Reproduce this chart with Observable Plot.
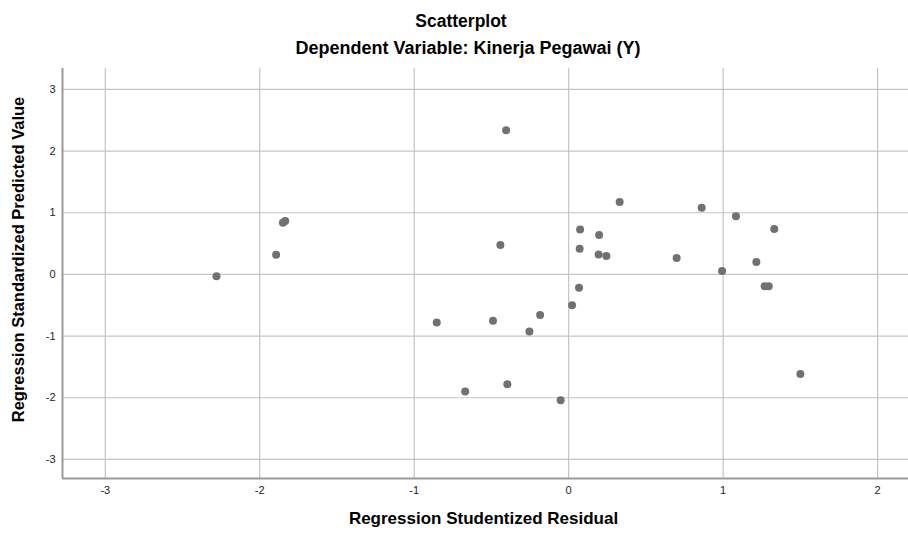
<!DOCTYPE html>
<html>
<head>
<meta charset="utf-8">
<script src="https://cdn.jsdelivr.net/npm/d3@7"></script>
<script src="https://cdn.jsdelivr.net/npm/@observablehq/plot@0.6"></script>
<style>
  html, body { margin: 0; padding: 0; background: #fff; }
  #wrap { position: relative; width: 908px; height: 534px; font-family: "Liberation Sans", Arial, sans-serif; color: #000; }
  .ttl { position: absolute; left: 0; width: 908px; box-sizing: border-box; text-align: center; font-weight: bold; white-space: nowrap; }
  #t1 { top: 13px; font-size: 17.5px; line-height: 17px; padding-left: 14px; }
  #t2 { top: 39px; font-size: 18px; line-height: 18px; padding-left: 28px; }
  #chart { position: absolute; left: 0; top: 60px; }
</style>
</head>
<body>
<div id="wrap">
  <div class="ttl" id="t1">Scatterplot</div>
  <div class="ttl" id="t2">Dependent Variable: Kinerja Pegawai (Y)</div>
  <div id="chart"></div>
</div>
<script>
// Regression Studentized Residual (x) and Regression Standardized Predicted Value (y)
const residual = [
  -2.28, -1.894, -1.85, -1.835, -0.854, -0.67, -0.49, -0.442, -0.405, -0.397,
  -0.254, -0.185, -0.052, 0.022, 0.067, 0.071, 0.074, 0.194, 0.197, 0.244,
  0.33, 0.699, 0.861, 0.993, 1.083, 1.215, 1.269, 1.295, 1.331, 1.50
];
const predicted = [
  -0.03, 0.32, 0.84, 0.867, -0.78, -1.90, -0.75, 0.476, 2.34, -1.78,
  -0.927, -0.657, -2.04, -0.50, -0.218, 0.416, 0.73, 0.325, 0.64, 0.298,
  1.176, 0.265, 1.083, 0.054, 0.943, 0.20, -0.19, -0.19, 0.737, -1.616
];
const xTicks = [-3, -2, -1, 0, 1, 2];
const yTicks = [-3, -2, -1, 0, 1, 2, 3];
const xDomain = [-3.277, 2.2];
const yDomain = [-3.31, 3.34];
const xTitle = "Regression Studentized Residual";
const yTitle = "Regression Standardized Predicted Value";

const points = residual.map((r, i) => ({x: r, y: predicted[i]}));
const fmt = d => String(d);

const chart = Plot.plot({
  width: 908,
  height: 474,
  marginLeft: 62,
  marginRight: 0,
  marginTop: 8,
  marginBottom: 56,
  style: {fontFamily: "'Liberation Sans', Arial, sans-serif", fontSize: "11px", color: "#222", background: "transparent", overflow: "visible"},
  x: {domain: xDomain, ticks: xTicks, label: null},
  y: {domain: yDomain, ticks: yTicks, label: null},
  marks: [
    Plot.gridX(xTicks, {stroke: "#c4c4c4", strokeOpacity: 1, strokeWidth: 1.2}),
    Plot.gridY(yTicks, {stroke: "#c4c4c4", strokeOpacity: 1, strokeWidth: 1.2}),
    Plot.ruleX([xDomain[0]], {stroke: "#9a9a9a", strokeWidth: 2}),
    Plot.ruleY([yDomain[0]], {stroke: "#9a9a9a", strokeWidth: 2}),
    Plot.axisX(xTicks, {tickSize: 0, tickPadding: 8, fontSize: 11, fill: "#222", label: null, tickFormat: fmt}),
    Plot.axisY(yTicks, {tickSize: 0, tickPadding: 7, fontSize: 11, fill: "#222", label: null, tickFormat: fmt}),
    Plot.dot(points, {x: "x", y: "y", r: 4, fill: "#717171", stroke: "none"}),
    Plot.text([xTitle], {frameAnchor: "bottom", textAnchor: "middle", dy: 45, dx: -2, fontSize: 17, fontWeight: "bold", fill: "#000"}),
    Plot.text([yTitle], {frameAnchor: "left", textAnchor: "middle", lineAnchor: "middle", dx: -44, dy: -14, rotate: -90, fontSize: 16.5, fontWeight: "bold", fill: "#000"})
  ]
});
document.getElementById("chart").append(chart);
</script>
</body>
</html>
